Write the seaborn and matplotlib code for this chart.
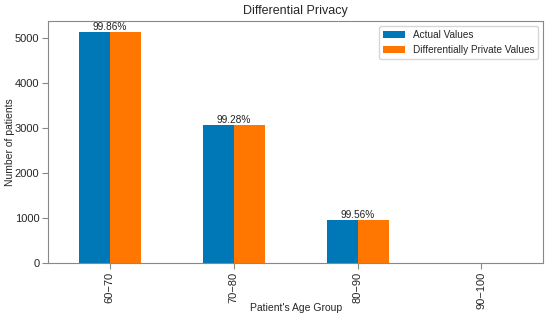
import matplotlib
matplotlib.use("Agg")
import matplotlib.pyplot as plt
import numpy as np
import pandas as pd
import seaborn as sns

age_groups = ["60\u221270", "70\u221280", "80\u221290", "90\u2212100"]
actual = [5134, 3085, 955, 0]
private = [5134, 3085, 955, 0]
accuracy = ["99.86%", "99.28%", "99.56%", ""]
series_names = ["Actual Values", "Differentially Private Values"]

df = pd.DataFrame({
    "group": age_groups * 2,
    "count": actual + private,
    "series": [series_names[0]] * 4 + [series_names[1]] * 4,
})

sns.set_style("ticks")
plt.rcParams["font.family"] = ["Liberation Sans", "DejaVu Sans"]

fig, ax = plt.subplots(figsize=(5.5, 3.21), dpi=100)
sns.barplot(data=df, x="group", y="count", hue="series", order=age_groups,
            hue_order=series_names, palette=["#0077b6", "#ff7700"],
            width=0.5, saturation=1, linewidth=0, ax=ax)

for i, txt in enumerate(accuracy):
    if txt:
        ax.text(i, max(actual[i], private[i]), txt, ha="center", va="bottom",
                fontsize=7.3, color="#222222")

ax.set_xlim(-0.5, 3.5)
ax.set_ylim(0, max(actual) * 1.05)
ax.set_title("Differential Privacy", fontsize=9, pad=5)
ax.set_xlabel("Patient's Age Group", fontsize=7.5)
ax.set_ylabel("Number of patients", fontsize=7.5)
ax.xaxis.set_label_coords(0.5, -0.165)
ax.yaxis.set_label_coords(-0.066, 0.5)
ax.tick_params(axis="x", rotation=90, labelsize=8, color="#888888", length=4, pad=2)
ax.tick_params(axis="y", labelsize=8, color="#888888", length=4, pad=2)
for s in ax.spines.values():
    s.set_visible(True)
    s.set_color("#888888")
leg = ax.legend(loc="upper right", fontsize=7.2, frameon=True, handlelength=2.2,
                handleheight=0.6, borderaxespad=0.5)
leg.get_frame().set_edgecolor("#cccccc")

fig.subplots_adjust(left=0.087, right=0.988, top=0.935, bottom=0.18)
fig.savefig("out.png", dpi=100)
